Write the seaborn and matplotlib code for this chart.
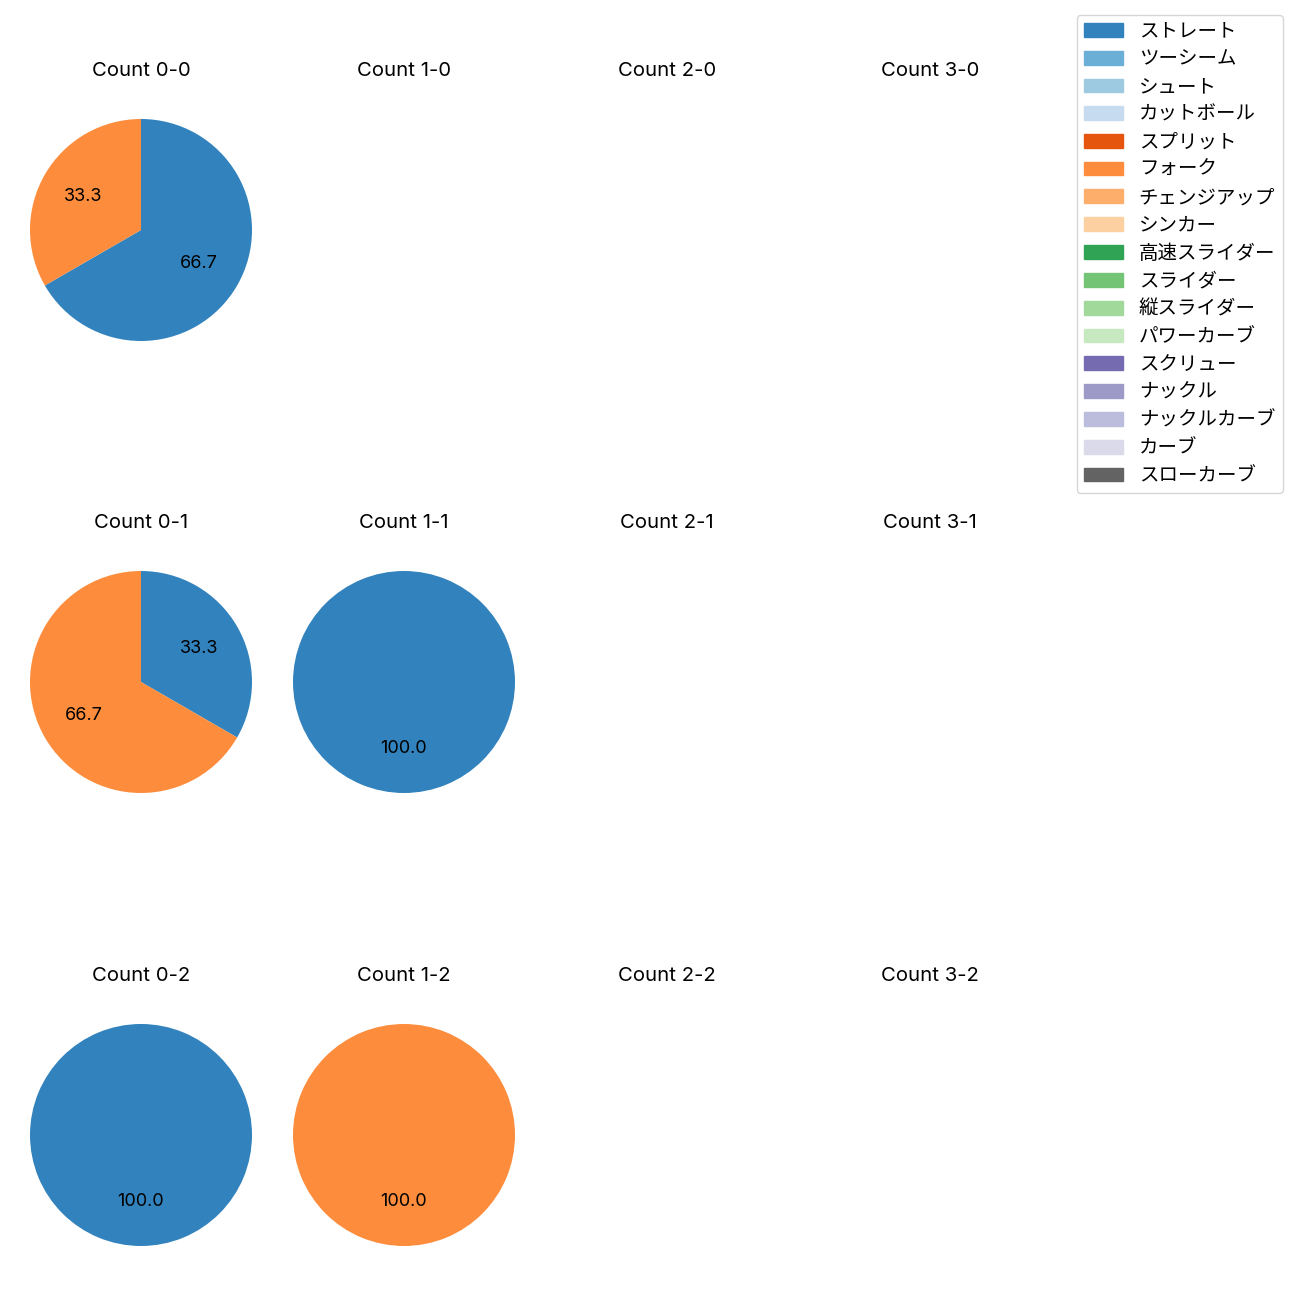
import matplotlib
matplotlib.use("Agg")
import matplotlib.pyplot as plt
import matplotlib.patches as mpatches
import seaborn as sns

plt.rcParams['font.family'] = ['Inter', 'Noto Sans CJK JP', 'DejaVu Sans']
plt.rcParams['text.color'] = 'black'

pitch_types = ["ストレート", "ツーシーム", "シュート", "カットボール", "スプリット", "フォーク",
               "チェンジアップ", "シンカー", "高速スライダー", "スライダー", "縦スライダー",
               "パワーカーブ", "スクリュー", "ナックル", "ナックルカーブ", "カーブ", "スローカーブ"]
pitch_colors = sns.color_palette("tab20c", len(pitch_types))

balls = [0, 1, 2, 3]
strikes = [0, 1, 2]

# pitch counts per count state
count_0_0 = {"ストレート": 2, "フォーク": 1}
count_0_1 = {"ストレート": 1, "フォーク": 2}
count_1_1 = {"ストレート": 1}
count_0_2 = {"ストレート": 1}
count_1_2 = {"フォーク": 1}
count_data = {(0, 0): count_0_0, (0, 1): count_0_1, (1, 1): count_1_1,
              (0, 2): count_0_2, (1, 2): count_1_2}

fig = plt.figure(figsize=(13, 13), dpi=100)
W = H = 1300.0
col_cx = [141, 404, 667, 930]
row_cy = [230, 682, 1135]
radius_px = 111
half = 1.25 * radius_px

for s in strikes:
    for b in balls:
        cx, cy = col_cx[b], row_cy[s]
        ax = fig.add_axes([(cx - half) / W, 1 - (cy + half) / H, 2 * half / W, 2 * half / H])
        d = count_data.get((b, s), {})
        vals = [d[p] for p in pitch_types if d.get(p, 0) > 0]
        cols = [pitch_colors[i] for i, p in enumerate(pitch_types) if d.get(p, 0) > 0]
        if vals:
            ax.pie(vals, colors=cols, autopct="%.1f", startangle=90, counterclock=False,
                   wedgeprops={"linewidth": 0}, textprops={"fontsize": 13, "color": "black"})
            ax.set_aspect("equal")
        else:
            ax.set_xlim(-1.25, 1.25)
            ax.set_ylim(-1.25, 1.25)
        ax.axis("off")
        ax.set_title(f"Count {b}-{s}", fontsize=14.6, pad=11, color="black")

handles = [mpatches.Patch(color=c, label=p) for p, c in zip(pitch_types, pitch_colors)]
fig.legend(handles=handles, loc="upper right", bbox_to_anchor=(1283 / W, 1 - 15 / H),
           borderaxespad=0, fontsize=14, labelspacing=0.5)

fig.savefig("out.png", dpi=100)
